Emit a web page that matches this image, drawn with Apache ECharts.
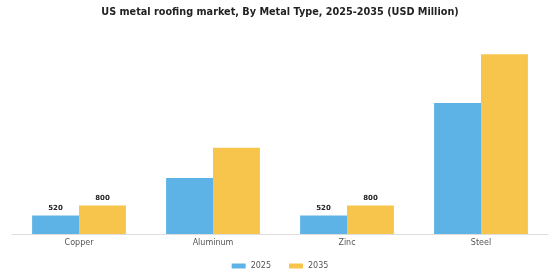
<!DOCTYPE html>
<html>
<head>
<meta charset="utf-8">
<script src="https://cdn.jsdelivr.net/npm/echarts@6/dist/echarts.min.js"></script>
<style>
  html, body { margin: 0; padding: 0; background: #fff; }
  #chart { width: 560px; height: 280px; }
</style>
</head>
<body>
<div id="chart"></div>
<script>
// data
var metalTypes = ["Copper", "Aluminum", "Zinc", "Steel"];
var values2025 = [520, 1580, 520, 3690];
var values2035 = [800, 2430, 800, 5070];
// only these categories carry value labels
var labelled = ["Copper", "Zinc"];

function withLabels(values) {
  return values.map(function (v, i) {
    return {
      value: v,
      label: { show: labelled.indexOf(metalTypes[i]) !== -1 }
    };
  });
}

var chart = echarts.init(document.getElementById("chart"));

var option = {
  animation: false,
  title: {
    text: "US metal roofing market, By Metal Type, 2025-2035 (USD Million)",
    left: "center",
    top: 2,
    textStyle: {
      fontFamily: "DejaVu Sans",
      fontSize: 9.7,
      fontWeight: "bold",
      color: "#222"
    }
  },
  legend: {
    bottom: 5,
    left: "center",
    itemWidth: 14,
    itemHeight: 5,
    itemGap: 18,
    icon: "rect",
    textStyle: { fontFamily: "DejaVu Sans", fontSize: 8, color: "#555" },
    data: ["2025", "2035"]
  },
  grid: {
    left: 12,
    right: 12,
    top: 30,
    bottom: 46
  },
  xAxis: {
    type: "category",
    data: metalTypes,
    axisTick: { show: false },
    axisLine: { lineStyle: { color: "#ddd" } },
    axisLabel: {
      fontFamily: "DejaVu Sans",
      fontSize: 8,
      color: "#555",
      margin: 5
    }
  },
  yAxis: {
    type: "value",
    min: 0,
    max: 5750,
    show: false,
    splitLine: { show: false }
  },
  series: [
    {
      name: "2025",
      type: "bar",
      data: withLabels(values2025),
      barGap: "0%",
      barCategoryGap: "30%",
      itemStyle: { color: "#5DB3E5" },
      label: {
        position: "top",
        distance: 4,
        fontFamily: "DejaVu Sans",
        fontSize: 7,
        fontWeight: "bold",
        color: "#222"
      }
    },
    {
      name: "2035",
      type: "bar",
      data: withLabels(values2035),
      barGap: "0%",
      barCategoryGap: "30%",
      itemStyle: { color: "#F8C54C" },
      label: {
        position: "top",
        distance: 4,
        fontFamily: "DejaVu Sans",
        fontSize: 7,
        fontWeight: "bold",
        color: "#222"
      }
    }
  ]
};

chart.setOption(option);
</script>
</body>
</html>
